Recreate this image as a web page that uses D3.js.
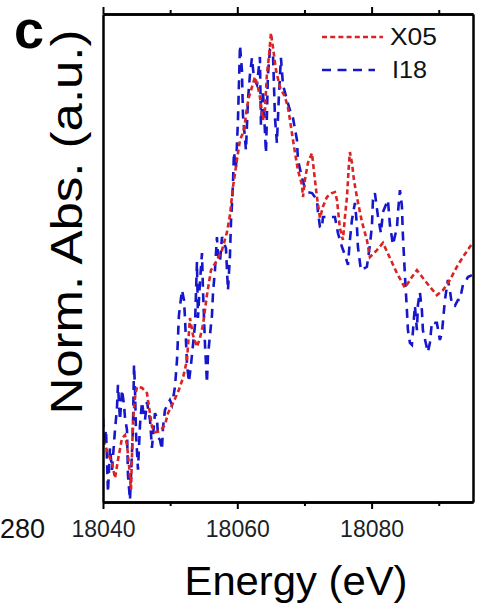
<!DOCTYPE html>
<html>
<head>
<meta charset="utf-8">
<script src="https://cdn.jsdelivr.net/npm/d3@7"></script>
<style>
    body { margin: 0; background: #fff; }
    #chart-area { width: 481px; height: 613px; }
    text { font-family: "Liberation Sans", Arial, sans-serif; }
</style>
</head>
<body>
<div id="chart-area"></div>
<script>
// X05 spectrum (energy in eV, normalized absorption)
const energyX05 = [
    18040.00, 18040.30, 18040.74, 18041.34, 18041.79, 18042.23, 18042.83, 18043.28, 18043.57, 18043.87,
    18044.17, 18044.47, 18044.76, 18045.06, 18045.81, 18046.55, 18046.85, 18047.29, 18047.74, 18048.49,
    18049.23, 18049.68, 18050.42, 18051.17, 18051.91, 18052.51, 18052.95, 18053.40, 18053.99, 18054.44,
    18054.89, 18055.48, 18056.08, 18056.82, 18057.72, 18058.46, 18058.91, 18059.35, 18059.95, 18060.40,
    18060.84, 18061.14, 18061.44, 18061.74, 18062.18, 18062.63, 18063.08, 18063.37, 18063.82, 18064.12,
    18064.42, 18064.71, 18065.01, 18065.31, 18065.76, 18066.35, 18067.10, 18067.54, 18067.84, 18068.29,
    18068.58, 18069.03, 18069.63, 18069.78, 18070.07, 18070.52, 18071.12, 18071.56, 18071.86, 18072.31,
    18072.75, 18073.35, 18074.09, 18074.54, 18074.84, 18075.28, 18075.73, 18076.03, 18076.33, 18076.62,
    18076.77, 18077.07, 18077.37, 18077.81, 18078.56, 18079.30, 18079.75, 18080.79, 18081.69, 18082.73,
    18083.77, 18084.96, 18086.00, 18086.75, 18087.64, 18088.68, 18089.72, 18090.62, 18091.66, 18092.70,
    18093.60, 18094.64, 18095.08
];
const normX05 = [
    0.127, 0.117, 0.100, 0.080, 0.049, 0.086, 0.131, 0.137, 0.117, 0.076,
    0.025, 0.168, 0.213, 0.236, 0.234, 0.223, 0.195, 0.154, 0.143, 0.145,
    0.158, 0.182, 0.203, 0.225, 0.254, 0.291, 0.377, 0.342, 0.318, 0.336,
    0.363, 0.424, 0.475, 0.492, 0.516, 0.553, 0.588, 0.645, 0.701, 0.742,
    0.756, 0.777, 0.809, 0.830, 0.850, 0.871, 0.850, 0.830, 0.783, 0.803,
    0.879, 0.912, 0.961, 0.932, 0.885, 0.850, 0.830, 0.809, 0.783, 0.742,
    0.717, 0.680, 0.650, 0.625, 0.660, 0.695, 0.715, 0.660, 0.625, 0.582,
    0.605, 0.625, 0.633, 0.635, 0.619, 0.561, 0.537, 0.584, 0.625, 0.691,
    0.717, 0.695, 0.660, 0.625, 0.574, 0.537, 0.502, 0.516, 0.531, 0.500,
    0.469, 0.439, 0.461, 0.475, 0.459, 0.441, 0.424, 0.434, 0.455, 0.482,
    0.502, 0.523, 0.531
];

// I18 spectrum (noisier)
const energyI18 = [
    18040.00, 18040.15, 18040.45, 18040.74, 18041.04, 18041.34, 18041.79, 18042.08, 18042.23, 18042.53,
    18042.83, 18043.13, 18043.28, 18043.57, 18043.72, 18044.02, 18044.32, 18044.47, 18044.62, 18044.76,
    18044.91, 18045.21, 18045.51, 18045.81, 18045.96, 18046.25, 18046.55, 18047.00, 18047.29, 18047.74,
    18048.04, 18048.19, 18048.49, 18048.78, 18048.93, 18049.23, 18049.97, 18050.27, 18050.72, 18051.02,
    18051.31, 18051.76, 18052.06, 18052.21, 18052.51, 18052.80, 18053.10, 18053.40, 18053.70, 18053.99,
    18054.14, 18054.44, 18054.74, 18054.89, 18055.19, 18055.48, 18055.63, 18055.93, 18056.23, 18056.38,
    18056.67, 18056.97, 18057.12, 18057.42, 18057.72, 18058.01, 18058.31, 18058.61, 18058.91, 18059.06,
    18059.20, 18059.35, 18059.50, 18059.80, 18060.10, 18060.40, 18060.69, 18060.84, 18061.29, 18061.59,
    18061.88, 18062.18, 18062.48, 18062.93, 18063.37, 18063.52, 18063.82, 18064.27, 18064.56, 18064.86,
    18065.31, 18065.61, 18065.90, 18066.20, 18066.50, 18066.80, 18067.39, 18067.84, 18068.29, 18068.88,
    18069.03, 18069.63, 18070.07, 18070.52, 18071.12, 18071.86, 18072.01, 18072.31, 18072.61, 18072.75,
    18074.54, 18074.99, 18075.58, 18076.03, 18076.48, 18076.77, 18077.07, 18077.52, 18077.81, 18077.96,
    18078.41, 18079.30, 18079.75, 18080.05, 18080.20, 18080.49, 18080.94, 18081.39, 18081.69, 18082.13,
    18082.43, 18082.73, 18083.18, 18083.47, 18083.77, 18083.92, 18084.22, 18084.51, 18084.66, 18084.96,
    18085.26, 18085.41, 18085.71, 18086.00, 18086.45, 18086.75, 18086.90, 18087.19, 18087.49, 18087.64,
    18088.38, 18088.68, 18088.98, 18089.43, 18089.72, 18090.17, 18090.47, 18090.62, 18090.92, 18091.36,
    18091.66, 18091.96, 18092.40, 18092.85, 18093.15, 18093.60, 18093.89, 18094.34, 18094.94
];
const normI18 = [
    0.172, 0.117, 0.148, 0.020, 0.111, 0.066, 0.148, 0.193, 0.240, 0.168,
    0.230, 0.199, 0.172, 0.148, 0.055, 0.004, 0.102, 0.158, 0.281, 0.234,
    0.143, 0.066, 0.158, 0.205, 0.189, 0.168, 0.205, 0.168, 0.111, 0.182,
    0.172, 0.133, 0.127, 0.107, 0.152, 0.189, 0.209, 0.199, 0.236, 0.291,
    0.383, 0.434, 0.414, 0.377, 0.281, 0.246, 0.281, 0.322, 0.363, 0.492,
    0.377, 0.451, 0.510, 0.434, 0.322, 0.244, 0.299, 0.342, 0.383, 0.428,
    0.475, 0.543, 0.506, 0.492, 0.543, 0.531, 0.520, 0.434, 0.506, 0.574,
    0.609, 0.650, 0.717, 0.684, 0.783, 0.936, 0.885, 0.793, 0.721, 0.824,
    0.875, 0.910, 0.869, 0.855, 0.912, 0.773, 0.844, 0.715, 0.875, 0.926,
    0.920, 0.787, 0.736, 0.834, 0.910, 0.855, 0.824, 0.803, 0.787, 0.742,
    0.701, 0.664, 0.643, 0.635, 0.633, 0.619, 0.594, 0.564, 0.561, 0.584,
    0.584, 0.551, 0.523, 0.506, 0.486, 0.537, 0.578, 0.613, 0.568, 0.523,
    0.475, 0.482, 0.527, 0.566, 0.619, 0.633, 0.586, 0.551, 0.594, 0.609,
    0.619, 0.568, 0.527, 0.545, 0.561, 0.592, 0.639, 0.607, 0.547, 0.465,
    0.393, 0.352, 0.326, 0.322, 0.402, 0.352, 0.404, 0.430, 0.393, 0.352,
    0.307, 0.326, 0.369, 0.367, 0.367, 0.332, 0.346, 0.369, 0.414, 0.455,
    0.434, 0.404, 0.402, 0.414, 0.414, 0.445, 0.449, 0.461, 0.465
];

const majorTicks = [18040, 18060, 18080];
const minorTicks = [18050, 18070, 18090];
const seriesNames = ["X05", "I18"];

class XanesVis {
    constructor(parentElement) {
        this.parentElement = parentElement;
        this.initVis();
    }

    initVis() {
        let vis = this;

        vis.margin = { top: 14, right: 8, bottom: 111, left: 103 };
        vis.width = 481 - vis.margin.left - vis.margin.right;
        vis.height = 613 - vis.margin.top - vis.margin.bottom;

        vis.svg = d3.select(`#${vis.parentElement}`).append("svg")
            .attr("width", 481)
            .attr("height", 613);

        vis.g = vis.svg.append("g")
            .attr("transform", `translate(${vis.margin.left}, ${vis.margin.top})`);

        vis.x = d3.scaleLinear().domain([18040, 18095.1]).range([0, vis.width]);
        vis.y = d3.scaleLinear().domain([0, 1]).range([vis.height, 0]);

        vis.svg.append("defs").append("clipPath")
            .attr("id", "plot-clip")
            .append("rect")
            .attr("width", vis.width)
            .attr("height", vis.height);

        vis.series = [
            { name: seriesNames[0], color: "#da2424", dash: "5,3.2",
              values: energyX05.map((e, i) => ({ e: e, v: normX05[i] })) },
            { name: seriesNames[1], color: "#1616cc", dash: "9,6.5",
              values: energyI18.map((e, i) => ({ e: e, v: normI18[i] })) }
        ];

        vis.updateVis();
    }

    updateVis() {
        let vis = this;

        let line = d3.line()
            .x(d => vis.x(d.e))
            .y(d => vis.y(d.v));

        // draw I18 first so X05 sits on top
        vis.g.append("g")
            .attr("clip-path", "url(#plot-clip)")
            .selectAll(".spectrum")
            .data(vis.series.slice().reverse())
            .enter().append("path")
            .attr("class", "spectrum")
            .attr("d", d => line(d.values))
            .attr("fill", "none")
            .attr("stroke", d => d.color)
            .attr("stroke-width", 2.6)
            .attr("stroke-dasharray", d => d.dash);

        // frame and ticks
        let axisStyle = sel => {
            sel.select(".domain").attr("stroke", "#000").attr("stroke-width", 2.5);
            sel.selectAll(".tick line").attr("stroke", "#000").attr("stroke-width", 2);
        };

        vis.g.append("g")
            .attr("transform", `translate(0, ${vis.height})`)
            .call(d3.axisBottom(vis.x).tickValues(minorTicks).tickSize(4).tickFormat("").tickSizeOuter(0))
            .call(axisStyle);

        let bottom = vis.g.append("g")
            .attr("transform", `translate(0, ${vis.height})`)
            .call(d3.axisBottom(vis.x).tickValues(majorTicks).tickSize(7).tickPadding(12)
                .tickFormat(d3.format("d")).tickSizeOuter(0))
            .call(axisStyle);
        bottom.selectAll(".tick text")
            .attr("font-size", 23)
            .attr("fill", "#1b1f26")
            .attr("font-family", "'Liberation Sans', Arial, sans-serif");

        vis.g.append("g")
            .call(d3.axisTop(vis.x).tickValues(minorTicks).tickSize(4).tickFormat("").tickSizeOuter(0))
            .call(axisStyle);
        vis.g.append("g")
            .call(d3.axisTop(vis.x).tickValues(majorTicks).tickSize(7).tickFormat("").tickSizeOuter(0))
            .call(axisStyle);

        vis.g.append("g")
            .call(d3.axisLeft(vis.y).tickValues([]).tickSizeOuter(0))
            .call(axisStyle);
        vis.g.append("g")
            .attr("transform", `translate(${vis.width}, 0)`)
            .call(d3.axisRight(vis.y).tickValues([]).tickSizeOuter(0))
            .call(axisStyle);

        // legend
        let legend = vis.svg.append("g").attr("class", "legend");
        let legendRows = [
            { y: 37, len: 61, tx: 390, tw: 47 },
            { y: 70, len: 53, tx: 392, tw: 35 }
        ];
        vis.series.forEach((s, i) => {
            let r = legendRows[i];
            legend.append("line")
                .attr("x1", 322).attr("x2", 322 + r.len)
                .attr("y1", r.y).attr("y2", r.y)
                .attr("stroke", s.color)
                .attr("stroke-width", 2.6)
                .attr("stroke-dasharray", s.dash);
            legend.append("text")
                .attr("x", r.tx)
                .attr("y", r.y + 8)
                .attr("font-size", 23)
                .attr("textLength", r.tw)
                .attr("lengthAdjust", "spacingAndGlyphs")
                .attr("fill", "#111")
                .text(s.name);
        });

        // axis titles and panel label
        vis.svg.append("text")
            .attr("x", 296)
            .attr("y", 595)
            .attr("text-anchor", "middle")
            .attr("font-size", 40)
            .attr("textLength", 223)
            .attr("lengthAdjust", "spacingAndGlyphs")
            .text("Energy (eV)");

        vis.svg.append("text")
            .attr("transform", "translate(82, 222) rotate(-90)")
            .attr("text-anchor", "middle")
            .attr("font-size", 44)
            .attr("textLength", 385)
            .attr("lengthAdjust", "spacingAndGlyphs")
            .text("Norm. Abs. (a.u.)");

        vis.svg.append("text")
            .attr("x", 14)
            .attr("y", 48)
            .attr("font-size", 54)
            .attr("font-weight", "bold")
            .text("c");

        // cut-off tick label of the neighbouring panel
        vis.svg.append("text")
            .attr("x", 45)
            .attr("y", 538)
            .attr("text-anchor", "end")
            .attr("font-size", 27)
            .attr("fill", "#111")
            .text("280");
    }
}

new XanesVis("chart-area");
</script>
</body>
</html>
